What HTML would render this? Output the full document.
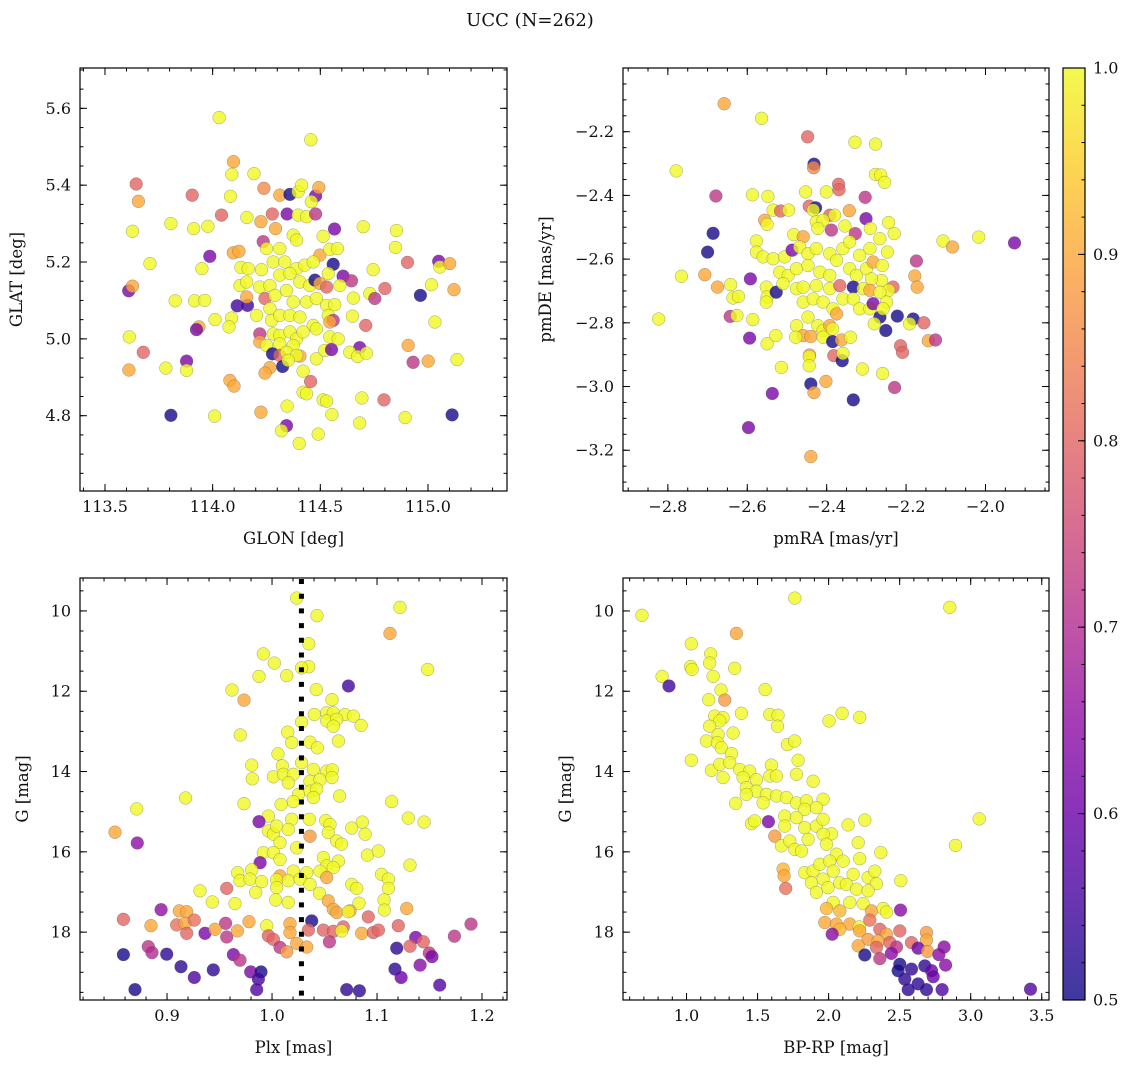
<!DOCTYPE html>
<html><head><meta charset="utf-8"><title>UCC (N=262)</title>
<style>
html,body{margin:0;padding:0;background:#fff;}
svg text{font-family:"DejaVu Serif","Liberation Serif",serif;fill:#111;}
</style></head>
<body>
<svg id="fig" width="1136" height="1068" viewBox="0 0 1136 1068" xmlns="http://www.w3.org/2000/svg">
<text x="530" y="26" font-size="18" text-anchor="middle">UCC (N=262)</text>
</svg>
<script>
// ---- data ----
// panel 1: [GLON, GLAT, membership probability]
const posStars = [
[114.03,5.576,.98],[114.456,5.518,.98],[114.097,5.461,.9],[114.089,5.428,.98],[114.192,5.43,.98],[113.645,5.403,.8],[113.655,5.358,.9],[113.905,5.374,.8],[114.238,5.392,.86],[114.083,5.371,.98],
[114.312,5.374,.9],[114.359,5.376,.51],[114.397,5.383,.98],[114.413,5.4,.98],[114.478,5.372,.62],[114.493,5.394,.9],[114.458,5.357,.98],[114.041,5.322,.8],[114.159,5.316,.98],[114.277,5.325,.8],
[114.346,5.325,.62],[114.397,5.322,.98],[114.436,5.318,.98],[114.478,5.325,.72],[114.292,5.287,.9],[114.224,5.305,.9],[113.806,5.3,.98],[113.912,5.287,.98],[113.978,5.293,.98],[113.628,5.28,.98],
[114.699,5.292,.98],[114.854,5.282,.98],[114.566,5.286,.62],[114.513,5.267,.98],[114.374,5.27,.98],[114.39,5.257,.98],[114.235,5.253,.72],[114.312,5.235,.98],[114.25,5.235,.98],[114.096,5.224,.9],
[114.122,5.228,.9],[114.498,5.218,.9],[114.544,5.233,.98],[114.58,5.235,.98],[114.849,5.238,.98],[113.987,5.215,.62],[113.709,5.196,.98],[113.95,5.183,.98],[114.131,5.186,.98],[114.165,5.183,.98],
[114.227,5.18,.98],[114.281,5.2,.98],[114.335,5.2,.98],[114.39,5.183,.98],[114.428,5.192,.98],[114.467,5.2,.98],[114.56,5.194,.51],[114.537,5.17,.98],[114.606,5.163,.62],[114.645,5.151,.72],
[114.745,5.18,.98],[114.905,5.199,.8],[115.05,5.202,.62],[115.055,5.187,.98],[115.101,5.196,.9],[113.61,5.125,.62],[113.628,5.137,.9],[114.127,5.139,.98],[114.158,5.148,.98],[114.219,5.135,.98],
[114.266,5.139,.98],[114.312,5.166,.98],[114.359,5.17,.98],[114.405,5.148,.98],[114.451,5.139,.98],[114.475,5.153,.51],[114.498,5.144,.9],[114.529,5.135,.8],[114.591,5.139,.98],[114.73,5.118,.98],
[114.753,5.105,.72],[114.8,5.131,.8],[114.965,5.113,.51],[115.016,5.141,.98],[115.121,5.128,.9],[113.826,5.099,.98],[113.916,5.099,.98],[113.963,5.1,.98],[114.114,5.086,.55],[114.162,5.087,.55],
[114.158,5.109,.9],[114.243,5.105,.8],[114.289,5.113,.98],[114.343,5.126,.98],[114.374,5.096,.98],[114.436,5.096,.98],[114.482,5.105,.98],[114.529,5.087,.98],[114.567,5.089,.98],[114.653,5.106,.98],
[114.011,5.05,.98],[114.088,5.054,.98],[114.076,5.031,.98],[114.204,5.061,.98],[114.266,5.079,.98],[114.274,5.048,.98],[114.312,5.061,.98],[114.359,5.061,.98],[114.405,5.057,.98],[114.467,5.035,.98],
[114.537,5.061,.98],[114.56,5.048,.72],[114.544,5.044,.9],[114.649,5.059,.98],[114.711,5.035,.8],[115.032,5.044,.98],[113.936,5.031,.9],[113.925,5.024,.62],[114.219,5.013,.72],[114.281,5.013,.98],
[114.312,5.009,.98],[114.359,5.018,.98],[114.39,5.0,.98],[114.42,5.018,.98],[114.482,5.026,.98],[114.544,5.005,.98],[114.583,5.0,.98],[113.613,5.005,.98],[114.219,4.992,.9],[114.25,4.983,.98],
[114.312,4.987,.98],[114.374,4.983,.98],[113.678,4.965,.8],[113.879,4.942,.62],[113.879,4.918,.98],[113.783,4.924,.98],[113.611,4.919,.9],[114.278,4.961,.51],[114.312,4.957,.8],[114.343,4.965,.98],
[114.405,4.955,.9],[114.39,4.957,.98],[114.482,4.948,.98],[114.521,4.97,.98],[114.552,4.972,.62],[114.683,4.977,.62],[114.637,4.965,.98],[114.673,4.954,.98],[114.714,4.963,.98],[114.908,4.983,.9],
[114.931,4.939,.72],[115.001,4.942,.9],[115.135,4.946,.98],[114.325,4.928,.51],[114.266,4.925,.9],[114.243,4.911,.9],[114.351,4.944,.98],[114.42,4.916,.98],[114.455,4.889,.8],[114.08,4.892,.9],
[114.099,4.877,.9],[114.42,4.861,.98],[114.436,4.857,.98],[114.513,4.841,.98],[114.529,4.838,.98],[114.693,4.846,.98],[114.796,4.841,.8],[113.806,4.801,.51],[114.009,4.799,.98],[114.224,4.809,.9],
[114.346,4.825,.98],[114.343,4.774,.62],[114.32,4.761,.98],[114.554,4.803,.98],[114.683,4.781,.98],[114.894,4.795,.98],[115.112,4.802,.51],[114.402,4.728,.98],[114.49,4.752,.98]
];
// panel 2: [pmRA, pmDE, probability]
const pmStars = [
[-2.658,-2.112,.9],[-2.564,-2.158,.98],[-2.448,-2.216,.8],[-2.329,-2.233,.98],[-2.277,-2.239,.98],[-2.779,-2.323,.98],[-2.432,-2.302,.51],[-2.433,-2.313,.86],[-2.277,-2.334,.98],[-2.264,-2.336,.98],
[-2.254,-2.359,.98],[-2.37,-2.365,.8],[-2.369,-2.382,.8],[-2.453,-2.389,.98],[-2.401,-2.389,.98],[-2.679,-2.402,.72],[-2.587,-2.398,.98],[-2.548,-2.403,.98],[-2.303,-2.406,.72],[-2.444,-2.434,.8],
[-2.428,-2.439,.51],[-2.434,-2.446,.98],[-2.535,-2.446,.98],[-2.516,-2.449,.8],[-2.496,-2.446,.98],[-2.392,-2.462,.8],[-2.38,-2.462,.98],[-2.343,-2.448,.9],[-2.301,-2.473,.62],[-2.556,-2.478,.9],
[-2.55,-2.491,.98],[-2.426,-2.483,.98],[-2.409,-2.478,.98],[-2.354,-2.496,.98],[-2.244,-2.485,.98],[-2.29,-2.504,.98],[-2.686,-2.519,.51],[-2.483,-2.523,.98],[-2.459,-2.53,.9],[-2.422,-2.504,.98],
[-2.388,-2.509,.72],[-2.328,-2.52,.72],[-2.266,-2.536,.98],[-2.23,-2.52,.98],[-2.107,-2.543,.98],[-2.083,-2.562,.9],[-2.017,-2.531,.98],[-1.927,-2.549,.62],[-2.577,-2.543,.98],[-2.70,-2.578,.51],
[-2.577,-2.578,.98],[-2.56,-2.593,.98],[-2.535,-2.599,.98],[-2.506,-2.593,.98],[-2.487,-2.572,.62],[-2.468,-2.562,.98],[-2.447,-2.583,.98],[-2.426,-2.567,.98],[-2.392,-2.583,.98],[-2.359,-2.567,.98],
[-2.342,-2.546,.98],[-2.317,-2.588,.98],[-2.291,-2.567,.98],[-2.247,-2.578,.98],[-2.174,-2.606,.72],[-2.766,-2.654,.98],[-2.707,-2.649,.9],[-2.675,-2.688,.9],[-2.642,-2.68,.98],[-2.636,-2.722,.98],
[-2.622,-2.717,.98],[-2.592,-2.662,.62],[-2.552,-2.688,.98],[-2.55,-2.719,.98],[-2.552,-2.735,.98],[-2.527,-2.704,.51],[-2.518,-2.641,.98],[-2.497,-2.651,.98],[-2.476,-2.63,.98],[-2.447,-2.62,.98],
[-2.417,-2.641,.98],[-2.392,-2.651,.98],[-2.375,-2.604,.98],[-2.342,-2.63,.98],[-2.325,-2.651,.98],[-2.30,-2.63,.98],[-2.283,-2.609,.9],[-2.26,-2.62,.98],[-2.262,-2.667,.98],[-2.287,-2.662,.98],
[-2.333,-2.688,.51],[-2.308,-2.693,.98],[-2.291,-2.698,.9],[-2.233,-2.688,.8],[-2.244,-2.698,.98],[-2.266,-2.704,.98],[-2.178,-2.653,.9],[-2.172,-2.688,.9],[-2.51,-2.677,.98],[-2.476,-2.693,.98],
[-2.459,-2.688,.98],[-2.426,-2.683,.98],[-2.392,-2.693,.98],[-2.367,-2.683,.8],[-2.359,-2.725,.98],[-2.333,-2.725,.98],[-2.317,-2.756,.98],[-2.291,-2.756,.98],[-2.283,-2.74,.62],[-2.266,-2.782,.51],
[-2.249,-2.735,.98],[-2.258,-2.756,.98],[-2.459,-2.735,.98],[-2.434,-2.725,.98],[-2.409,-2.735,.98],[-2.384,-2.756,.98],[-2.375,-2.772,.9],[-2.643,-2.78,.72],[-2.626,-2.777,.98],[-2.586,-2.79,.98],
[-2.476,-2.809,.98],[-2.447,-2.782,.98],[-2.422,-2.809,.98],[-2.409,-2.824,.98],[-2.392,-2.809,.9],[-2.385,-2.819,.98],[-2.28,-2.803,.98],[-2.222,-2.779,.51],[-2.182,-2.788,.51],[-2.191,-2.803,.98],
[-2.155,-2.80,.8],[-2.251,-2.824,.51],[-2.459,-2.84,.9],[-2.478,-2.845,.98],[-2.44,-2.843,.9],[-2.594,-2.848,.62],[-2.55,-2.866,.98],[-2.528,-2.84,.98],[-2.409,-2.845,.98],[-2.385,-2.859,.51],
[-2.363,-2.854,.9],[-2.34,-2.845,.98],[-2.144,-2.856,.9],[-2.126,-2.854,.72],[-2.214,-2.872,.8],[-2.209,-2.893,.8],[-2.443,-2.901,.9],[-2.444,-2.906,.98],[-2.382,-2.903,.8],[-2.361,-2.919,.51],
[-2.359,-2.896,.98],[-2.514,-2.94,.98],[-2.444,-2.935,.98],[-2.31,-2.945,.98],[-2.259,-2.959,.98],[-2.402,-2.984,.9],[-2.44,-2.992,.51],[-2.432,-3.019,.9],[-2.537,-3.022,.62],[-2.333,-3.042,.51],
[-2.229,-3.003,.72],[-2.597,-3.129,.62],[-2.44,-3.22,.9],[-2.823,-2.788,.98]
];
// panel 3: [Plx, G, probability]
const plxStars = [
[1.0235,9.68,.98],[1.1219,9.91,.98],[1.0428,10.12,.98],[1.1124,10.56,.9],[1.0349,10.82,.98],[0.9917,11.07,.98],[1.0022,11.30,.98],[1.0349,11.39,.98],[1.0282,11.42,.98],[0.9876,11.63,.98],
[1.014,11.61,.98],[1.1483,11.46,.98],[1.0727,11.87,.55],[0.9619,11.97,.98],[1.0422,11.96,.98],[0.9733,12.22,.9],[1.0571,12.21,.98],[1.0403,12.58,.98],[1.0521,12.54,.98],[1.0584,12.54,.98],
[1.0695,12.58,.98],[1.0775,12.62,.98],[1.0521,12.74,.98],[1.0616,12.70,.98],[1.0848,12.85,.98],[1.0282,12.77,.98],[1.0584,12.87,.98],[0.9698,13.09,.98],[1.0149,13.02,.98],[1.0187,13.28,.98],
[1.0362,13.27,.98],[1.0432,13.41,.98],[1.0632,13.24,.98],[1.0057,13.56,.98],[0.9806,13.84,.98],[1.0098,13.86,.98],[1.0282,13.78,.98],[1.0394,13.95,.98],[1.0521,13.99,.98],[1.0574,13.96,.98],
[0.9812,14.18,.98],[1.0013,14.13,.98],[1.0108,14.07,.98],[1.0203,14.07,.98],[1.0155,14.28,.98],[1.0362,14.24,.98],[1.0457,14.20,.98],[1.0571,14.15,.98],[1.0362,14.49,.98],[1.0425,14.44,.98],
[1.0251,14.57,.98],[1.0203,14.75,.98],[1.0394,14.65,.98],[1.0644,14.61,.98],[0.9177,14.66,.98],[0.8711,14.93,.98],[0.9733,14.80,.98],[1.0086,14.82,.98],[1.114,14.75,.98],[0.9965,15.11,.98],
[0.9876,15.25,.62],[1.0187,15.19,.98],[1.0355,15.19,.98],[1.0511,15.22,.98],[1.0552,15.32,.98],[1.086,15.26,.98],[1.1298,15.16,.98],[1.1448,15.26,.98],[0.8504,15.51,.9],[0.8717,15.78,.65],
[0.9965,15.48,.98],[1.0013,15.56,.98],[1.0044,15.36,.98],[1.0155,15.44,.98],[1.0362,15.61,.88],[1.0536,15.52,.98],[1.0759,15.41,.98],[1.0886,15.56,.98],[1.0076,15.77,.98],[1.0235,15.90,.98],
[1.0616,15.73,.98],[1.0663,15.81,.98],[1.0908,16.08,.98],[1.1013,15.98,.98],[0.9917,16.02,.98],[1.0013,16.02,.98],[0.9886,16.27,.62],[1.0076,16.19,.98],[1.0489,16.14,.98],[1.0632,16.23,.98],
[1.0521,16.35,.98],[1.1314,16.33,.98],[0.9673,16.52,.98],[0.9806,16.45,.98],[1.0203,16.48,.98],[1.033,16.52,.98],[1.0457,16.48,.98],[1.0584,16.39,.98],[1.0076,16.60,.9],[1.0521,16.64,.9],
[1.1044,16.56,.98],[0.9695,16.72,.98],[0.979,16.68,.98],[0.9901,16.74,.98],[1.0044,16.70,.98],[1.0155,16.72,.98],[1.0267,16.68,.98],[1.0362,16.81,.98],[1.0759,16.81,.98],[1.1108,16.68,.98],
[0.9568,16.91,.8],[0.9314,16.97,.98],[0.9844,17.01,.98],[1.0044,16.89,.98],[1.0806,16.91,.98],[1.1108,16.91,.98],[1.0451,17.03,.98],[0.9431,17.25,.98],[0.9647,17.29,.98],[1.0035,17.20,.98],
[1.0155,17.26,.98],[1.0536,17.22,.9],[1.0828,17.28,.98],[1.1067,17.20,.98],[0.8943,17.44,.65],[0.9117,17.47,.9],[0.9187,17.49,.9],[1.0584,17.43,.9],[1.0616,17.51,.9],[1.0743,17.47,.9],
[1.0727,17.49,.98],[1.107,17.45,.98],[1.1283,17.41,.9],[0.8584,17.68,.8],[0.8847,17.84,.9],[0.9092,17.82,.82],[0.9171,17.78,.9],[0.926,17.70,.82],[0.9558,17.78,.72],[0.9781,17.74,.9],
[1.0171,17.79,.9],[1.0378,17.72,.51],[1.0917,17.62,.8],[1.1203,17.84,.8],[1.1895,17.80,.72],[0.9187,18.03,.8],[0.9362,18.03,.62],[0.9457,17.93,.9],[0.9568,18.12,.72],[0.967,17.97,.9],
[0.9949,17.84,.98],[0.9965,18.09,.8],[1.0013,18.18,.8],[1.0171,18.01,.9],[1.0346,17.95,.8],[1.0489,17.95,.8],[1.0584,17.98,.8],[1.0679,17.87,.8],[1.0663,17.97,.98],[1.0854,18.03,.9],
[1.0965,18.01,.8],[1.1013,17.95,.8],[1.1368,18.13,.62],[1.1441,18.24,.8],[1.1737,18.10,.72],[0.8822,18.36,.72],[0.8857,18.51,.7],[0.8584,18.56,.51],[0.8997,18.55,.53],[0.9632,18.56,.62],
[0.9695,18.70,.72],[1.0076,18.38,.72],[1.014,18.49,.88],[1.0235,18.28,.9],[1.033,18.37,.9],[1.0546,18.24,.72],[1.1187,18.40,.53],[1.1314,18.35,.8],[1.1498,18.52,.72],[1.1524,18.61,.62],
[0.9133,18.86,.53],[0.926,19.13,.57],[0.9441,18.94,.53],[0.9797,18.99,.62],[0.9895,18.99,.51],[0.987,19.17,.55],[1.141,18.82,.64],[1.1171,18.92,.53],[1.1229,19.13,.6],[0.8695,19.43,.51],
[0.9854,19.43,.57],[1.0711,19.43,.53],[1.0832,19.46,.53],[1.1597,19.32,.57]
];
// panel 4: [BP-RP, G, probability]
const cmdStars = [
[1.762,9.68,.98],[2.853,9.91,.98],[0.687,10.11,.98],[1.351,10.56,.9],[1.034,10.82,.98],[1.17,11.07,.98],[1.163,11.30,.98],[1.029,11.39,.98],[1.039,11.46,.98],[1.339,11.43,.98],
[0.828,11.63,.98],[1.187,11.63,.98],[0.877,11.87,.55],[1.243,11.97,.98],[1.553,11.96,.98],[1.156,12.21,.98],[1.269,12.22,.88],[1.386,12.55,.98],[1.586,12.58,.98],[1.644,12.60,.98],
[1.64,12.87,.98],[2.095,12.55,.98],[2.003,12.74,.98],[2.219,12.65,.98],[1.198,12.62,.98],[1.257,12.66,.98],[1.234,12.74,.98],[1.163,12.87,.98],[1.222,13.08,.98],[1.328,13.04,.98],
[1.14,13.24,.98],[1.217,13.28,.98],[1.245,13.41,.98],[1.316,13.55,.98],[1.71,13.33,.98],[1.762,13.24,.98],[1.034,13.72,.98],[1.785,13.72,.98],[1.175,13.97,.98],[1.234,13.82,.98],
[1.304,13.78,.98],[1.374,13.95,.98],[1.445,13.99,.98],[1.597,13.84,.98],[1.257,14.15,.98],[1.398,14.15,.98],[1.492,14.20,.98],[1.586,14.11,.98],[1.633,14.11,.98],[1.773,14.07,.98],
[1.891,14.24,.98],[1.421,14.40,.98],[1.492,14.49,.98],[1.562,14.57,.98],[1.421,14.57,.98],[1.346,14.79,.98],[1.539,14.78,.98],[1.633,14.61,.98],[1.703,14.65,.98],[1.773,14.78,.98],
[1.844,14.73,.98],[1.961,14.69,.98],[1.832,14.94,.98],[1.914,14.90,.98],[1.457,15.30,.98],[1.48,15.23,.98],[1.576,15.25,.62],[1.691,15.11,.98],[1.773,15.15,.98],[1.691,15.36,.98],
[1.832,15.40,.98],[1.914,15.36,.98],[1.961,15.19,.98],[2.02,15.55,.98],[2.137,15.33,.98],[2.255,15.21,.98],[3.06,15.18,.98],[1.621,15.61,.88],[1.668,15.85,.98],[1.727,15.73,.98],
[1.762,15.94,.98],[1.809,15.98,.98],[1.856,15.69,.98],[1.961,15.56,.98],[1.985,15.81,.98],[2.055,16.06,.98],[2.208,15.77,.98],[2.367,16.02,.98],[2.893,15.84,.98],[1.68,16.43,.92],
[1.687,16.60,.9],[1.698,16.91,.82],[1.832,16.52,.98],[1.891,16.48,.98],[1.938,16.31,.98],[2.008,16.23,.98],[2.102,16.23,.98],[2.219,16.17,.98],[1.879,16.77,.98],[1.961,16.68,.98],
[2.032,16.48,.98],[2.079,16.77,.98],[2.172,16.56,.98],[2.278,16.64,.98],[2.325,16.48,.98],[2.337,16.79,.98],[1.914,17.01,.98],[1.996,16.89,.98],[2.125,16.81,.98],[2.196,16.93,.98],
[2.278,16.97,.98],[2.508,16.72,.98],[2.032,17.26,.98],[2.149,17.26,.98],[2.243,17.29,.98],[1.985,17.41,.92],[2.079,17.47,.92],[2.302,17.47,.9],[2.384,17.41,.98],[2.407,17.50,.98],
[2.506,17.45,.64],[1.973,17.76,.9],[2.055,17.80,.9],[2.149,17.80,.9],[2.215,17.87,.98],[2.29,17.70,.82],[2.219,17.97,.9],[2.079,17.93,.92],[2.025,18.05,.64],[2.36,17.93,.8],
[2.407,18.05,.9],[2.501,17.97,.8],[2.689,18.01,.88],[2.278,18.18,.88],[2.348,18.22,.9],[2.431,18.26,.8],[2.583,18.26,.8],[2.689,18.20,.9],[2.208,18.34,.9],[2.337,18.38,.8],
[2.478,18.37,.72],[2.63,18.40,.6],[2.696,18.48,.88],[2.813,18.37,.64],[2.255,18.57,.51],[2.36,18.66,.72],[2.442,18.53,.64],[2.776,18.56,.64],[2.501,18.80,.51],[2.583,18.92,.53],
[2.489,18.96,.51],[2.677,18.84,.53],[2.724,18.96,.6],[2.823,18.82,.64],[2.536,19.17,.53],[2.736,19.11,.6],[2.63,19.29,.53],[2.56,19.43,.53],[2.689,19.43,.53],[2.799,19.43,.57],
[3.421,19.42,.57]
];
// tick labels
const glonTicks = [113.5,114.0,114.5,115.0];
const glatTicks = [4.8,5.0,5.2,5.4,5.6];
const pmraTicks = [-2.8,-2.6,-2.4,-2.2,-2.0];
const pmdeTicks = [-3.2,-3.0,-2.8,-2.6,-2.4,-2.2];
const plxTicks = [0.9,1.0,1.1,1.2];
const gTicks = [10,12,14,16,18];
const bprpTicks = [1.0,1.5,2.0,2.5,3.0,3.5];
const cbarTicks = [0.5,0.6,0.7,0.8,0.9,1.0];
const plxMedian = [1.028];

// ---- rendering ----
const NS = 'http://www.w3.org/2000/svg';
const svg = document.getElementById('fig');
function el(tag, attrs, parent){const e=document.createElementNS(NS,tag);for(const k in attrs)e.setAttribute(k,attrs[k]);(parent||svg).appendChild(e);return e;}
const plasma=[[13,8,135],[65,4,157],[106,0,168],[143,13,164],[177,42,144],[204,71,120],[225,100,98],[242,132,75],[252,166,54],[252,206,37],[240,249,33]];
function cmapRaw(t){t=Math.max(0,Math.min(1,t));const f=t*10,i=Math.min(9,Math.floor(f)),r=f-i;const a=plasma[i],b=plasma[i+1];return 'rgb('+[0,1,2].map(k=>Math.round(a[k]+(b[k]-a[k])*r)).join(',')+')';}
function cmap(v){ if(v>=0.97) v=1.0; return cmapRaw((v-0.5)/0.5); }
function fmt(v,d){const s=Math.abs(v).toFixed(d);return (v<-1e-9?'\u2212':'')+s;}

function panel(cfg){
  const [x0,y0,x1,y1]=cfg.box;
  const sx=v=>x0+(v-cfg.xd[0])/(cfg.xd[1]-cfg.xd[0])*(x1-x0);
  const sy=v=>cfg.yInv? y0+(v-cfg.yd[0])/(cfg.yd[1]-cfg.yd[0])*(y1-y0) : y1-(v-cfg.yd[0])/(cfg.yd[1]-cfg.yd[0])*(y1-y0);
  const g=el('g',{});
  
  
  const cp=el('clipPath',{id:'clip-'+cfg.name},g);
  el('rect',{x:x0,y:y0,width:x1-x0,height:y1-y0},cp);
  const pts=el('g',{'clip-path':'url(#clip-'+cfg.name+')'},g);
  
  
  cfg.data.forEach(d=>{
    const c=el('circle',{cx:sx(d[0]).toFixed(1),cy:sy(d[1]).toFixed(1),r:6.4,fill:cmap(d[2]),'fill-opacity':0.8,stroke:'#555','stroke-opacity':0.55,'stroke-width':0.5},pts);
    
    
  });
  if(cfg.vline){cfg.vline.forEach(v=>{
    const l=el('line',{x1:sx(v),x2:sx(v),y1:y0+1,y2:y1,stroke:'#000','stroke-width':5,'stroke-dasharray':'5 9.7'},g);
    
    
  });}
  const frame=el('rect',{x:x0,y:y0,width:x1-x0,height:y1-y0,fill:'none',stroke:'#000','stroke-width':1.2},g);
  
  
  const eps=1e-9;
  for(let v=Math.ceil(cfg.xd[0]/cfg.xm-eps)*cfg.xm; v<=cfg.xd[1]+eps; v+=cfg.xm){const X=sx(v);el('line',{x1:X,x2:X,y1:y1,y2:y1-3.5,stroke:'#000','stroke-width':1},g);el('line',{x1:X,x2:X,y1:y0,y2:y0+3.5,stroke:'#000','stroke-width':1},g);}
  const ylo=Math.min(cfg.yd[0],cfg.yd[1]),yhi=Math.max(cfg.yd[0],cfg.yd[1]);
  for(let v=Math.ceil(ylo/cfg.ym-eps)*cfg.ym; v<=yhi+eps; v+=cfg.ym){const Y=sy(v);el('line',{x1:x0,x2:x0+3.5,y1:Y,y2:Y,stroke:'#000','stroke-width':1},g);el('line',{x1:x1,x2:x1-3.5,y1:Y,y2:Y,stroke:'#000','stroke-width':1},g);}
  cfg.xt.forEach(v=>{const X=sx(v);
    el('line',{x1:X,x2:X,y1:y1,y2:y1-7,stroke:'#000','stroke-width':1},g);el('line',{x1:X,x2:X,y1:y0,y2:y0+7,stroke:'#000','stroke-width':1},g);
    const t=el('text',{x:X,y:y1+21,'font-size':16,'text-anchor':'middle'},g);t.textContent=fmt(v,cfg.xdig);
    
    
  });
  cfg.yt.forEach(v=>{const Y=sy(v);
    el('line',{x1:x0,x2:x0+7,y1:Y,y2:Y,stroke:'#000','stroke-width':1},g);el('line',{x1:x1,x2:x1-7,y1:Y,y2:Y,stroke:'#000','stroke-width':1},g);
    const t=el('text',{x:x0-9,y:Y+5.5,'font-size':16,'text-anchor':'end'},g);t.textContent=fmt(v,cfg.ydig);
    
    
  });
  const xl=el('text',{x:(x0+x1)/2,y:y1+53,'font-size':16.5,'text-anchor':'middle'},g);xl.textContent=cfg.xl;
  
  
  const yl=el('text',{x:0,y:0,'font-size':16.5,'text-anchor':'middle',transform:'translate('+(cfg.ylx)+','+((y0+y1)/2)+') rotate(-90)'},g);yl.textContent=cfg.yl;
  
  
}

panel({name:'position-panel',box:[80,68,507,491],xd:[113.384,115.367],yd:[4.604,5.705],data:posStars,xt:glonTicks,yt:glatTicks,xm:0.1,ym:0.05,xdig:1,ydig:1,xl:'GLON [deg]',yl:'GLAT [deg]',ylx:22});
panel({name:'proper-motion-panel',box:[623,68,1049,491],xd:[-2.913,-1.840],yd:[-3.328,-2.0],data:pmStars,xt:pmraTicks,yt:pmdeTicks,xm:0.05,ym:0.05,xdig:1,ydig:1,xl:'pmRA [mas/yr]',yl:'pmDE [mas/yr]',ylx:551});
panel({name:'parallax-panel',box:[80,578,507,1000],xd:[0.8171,1.2238],yd:[9.18,19.69],yInv:true,data:plxStars,xt:plxTicks,yt:gTicks,xm:0.02,ym:0.5,xdig:1,ydig:0,xl:'Plx [mas]',yl:'G [mag]',ylx:28,vline:plxMedian});
panel({name:'cmd-panel',box:[623,578,1049,1000],xd:[0.553,3.551],yd:[9.18,19.69],yInv:true,data:cmdStars,xt:bprpTicks,yt:gTicks,xm:0.1,ym:0.5,xdig:1,ydig:0,xl:'BP-RP [mag]',yl:'G [mag]',ylx:571});

// colorbar
(function(){
  const x0=1063,x1=1085,y0=68,y1=1000;
  const defs=el('defs',{});
  const lg=el('linearGradient',{id:'cbgrad',x1:0,y1:1,x2:0,y2:0},defs);
  for(let i=0;i<=10;i++){el('stop',{offset:(i*10)+'%','stop-color':cmapRaw(i/10),'stop-opacity':0.8},lg);}
  const cb=el('g',{});
  
  
  el('rect',{x:x0,y:y0,width:x1-x0,height:y1-y0,fill:'url(#cbgrad)',stroke:'#000','stroke-width':1.2},cb);
  const sy=v=>y1-(v-0.5)/0.5*(y1-y0);
  for(let v=0.5;v<=1.0001;v+=0.02){const Y=sy(v);el('line',{x1:x1,x2:x1-3.5,y1:Y,y2:Y,stroke:'#000','stroke-width':1},cb);}
  cbarTicks.forEach(v=>{const Y=sy(v);
    el('line',{x1:x1,x2:x1-7,y1:Y,y2:Y,stroke:'#000','stroke-width':1},cb);
    const t=el('text',{x:x1+8,y:Y+5.5,'font-size':16},cb);t.textContent=v.toFixed(1);
    
    
  });
})();
</script>
</body></html>
